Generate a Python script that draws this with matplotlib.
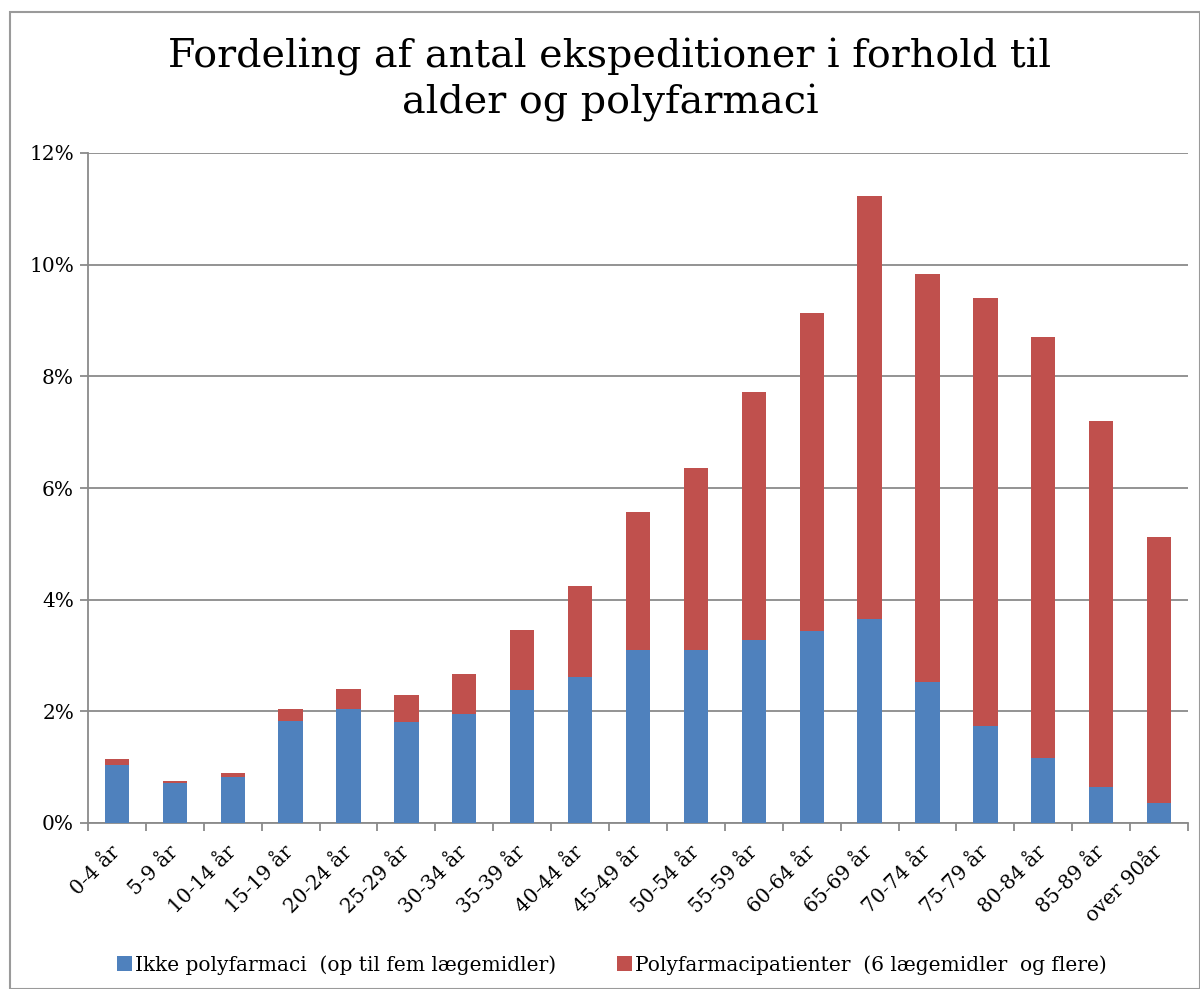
import numpy as np
import matplotlib.pyplot as plt
from matplotlib.ticker import FuncFormatter, FixedLocator

kategorier = ["0-4 år", "5-9 år", "10-14 år", "15-19 år", "20-24 år", "25-29 år",
              "30-34 år", "35-39 år", "40-44 år", "45-49 år", "50-54 år", "55-59 år",
              "60-64 år", "65-69 år", "70-74 år", "75-79 år", "80-84 år", "85-89 år",
              "over 90år"]

ikke_poly = [1.04, 0.72, 0.82, 1.83, 2.04, 1.81, 1.95, 2.38, 2.61, 3.10, 3.10, 3.28,
             3.44, 3.65, 2.53, 1.74, 1.16, 0.64, 0.36]
total = [1.15, 0.75, 0.90, 2.04, 2.40, 2.29, 2.67, 3.46, 4.24, 5.57, 6.36, 7.72,
         9.13, 11.23, 9.83, 9.40, 8.71, 7.20, 5.12]
poly = [t - b for t, b in zip(total, ikke_poly)]

blaa = "#4F81BD"
roed = "#C0504D"
grid_farve = "#8A8A8A"
font = "DejaVu Serif"

W, H = 1200, 989
fig = plt.figure(figsize=(W / 100, H / 100), dpi=100)
ax = fig.add_axes([88 / W, 1 - 823 / H, 1100 / W, 670 / H])

x = np.arange(len(kategorier))
ax.bar(x, ikke_poly, width=0.42, color=blaa, label="Ikke polyfarmaci  (op til fem lægemidler)", zorder=3)
ax.bar(x, poly, width=0.42, bottom=ikke_poly, color=roed,
       label="Polyfarmacipatienter  (6 lægemidler  og flere)", zorder=3)

ax.set_xlim(-0.5, len(kategorier) - 0.5)
ax.set_ylim(0, 12)
ax.set_yticks(np.arange(0, 13, 2))
ax.yaxis.set_major_formatter(FuncFormatter(lambda v, p: f"{int(v)}%"))
ax.grid(axis="y", color=grid_farve, linewidth=1.3, zorder=0)

ax.set_xticks(x)
ax.set_xticklabels(kategorier, rotation=45, ha="right", va="center", rotation_mode="anchor",
                   fontsize=14.5, family=font)
ax.tick_params(axis="x", length=0, pad=19)
ax.xaxis.set_minor_locator(FixedLocator(np.arange(-0.5, len(kategorier), 1)))
ax.tick_params(axis="x", which="minor", length=6, color=grid_farve, width=1.3)
ax.tick_params(axis="y", length=6, color=grid_farve, width=1.3, labelsize=14.5, pad=4)
for lbl in ax.get_yticklabels():
    lbl.set_family(font)

for s in ["top", "right"]:
    ax.spines[s].set_visible(False)
for s in ["left", "bottom"]:
    ax.spines[s].set_color(grid_farve)
    ax.spines[s].set_linewidth(1.3)

# titel i to linjer
fig.text(610 / W, 1 - 67 / H, "Fordeling af antal ekspeditioner i forhold til",
         ha="center", va="baseline", fontsize=28.5, family=font)
fig.text(610 / W, 1 - 113 / H, "alder og polyfarmaci",
         ha="center", va="baseline", fontsize=28.5, family=font)

fig.legend(loc="center", bbox_to_anchor=(612 / W, 1 - 965 / H), ncol=2, frameon=False,
           prop={"family": font, "size": 14.5}, handlelength=0.75, handleheight=0.75,
           handletextpad=0.15, columnspacing=3.0)

border = plt.Rectangle((10 / W, 0.5 / H), (W - 10.5) / W, (H - 12.5) / H, transform=fig.transFigure,
                       fill=False, edgecolor="#9A9A9A", linewidth=1.5)
fig.patches.append(border)

fig.savefig("out.png", dpi=100)
